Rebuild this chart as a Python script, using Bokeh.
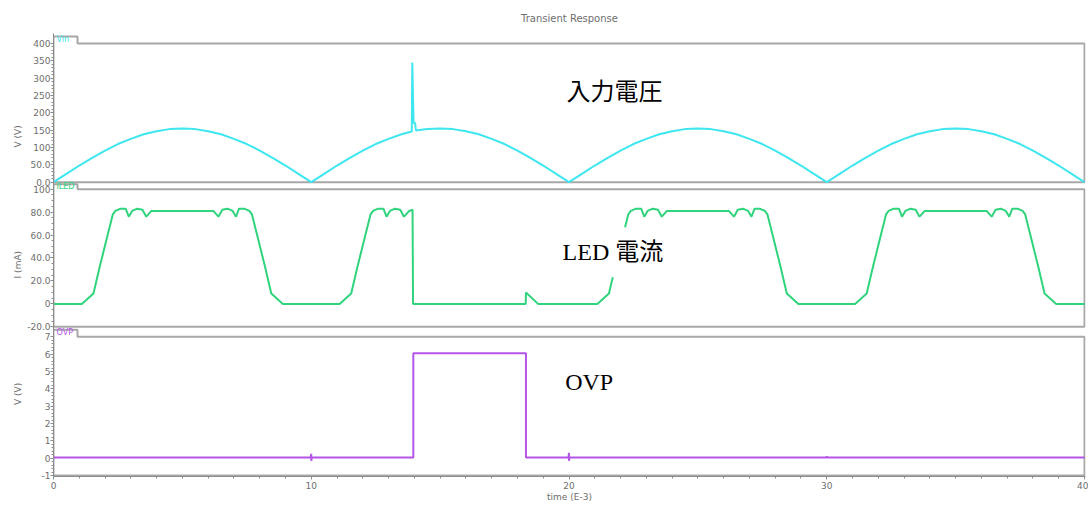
import math
from bokeh.plotting import figure
from bokeh.layouts import row
from bokeh.models import Range1d, FixedTicker, Label
from bokeh.embed import file_html
from bokeh.resources import INLINE

# ---------------- data ----------------
t_vin = [0, 0.5, 1, 1.5, 2, 2.5, 3, 3.5, 4, 4.5, 5, 5.5, 6, 6.5, 7, 7.5, 8, 8.5, 9, 9.5, 10,
         10.5, 11, 11.5, 12, 12.5, 13, 13.5, 13.9, 13.92, 13.97, 14.03, 14.06,
         14.5, 15, 15.5, 16, 16.5, 17, 17.5, 18, 18.5, 19, 19.5, 20,
         20.5, 21, 21.5, 22, 22.5, 23, 23.5, 24, 24.5, 25, 25.5, 26, 26.5, 27, 27.5, 28, 28.5, 29, 29.5, 30,
         30.5, 31, 31.5, 32, 32.5, 33, 33.5, 34, 34.5, 35, 35.5, 36, 36.5, 37, 37.5, 38, 38.5, 39, 39.5, 40]
vin = [0, 24, 48, 70, 91, 110, 125, 138, 147, 153, 155, 153, 147, 138, 125, 110, 91, 70, 48, 24, 0,
       24, 48, 70, 91, 110, 125, 138, 146, 345, 172, 170, 149,
       153, 155, 153, 147, 138, 125, 110, 91, 70, 48, 24, 0,
       24, 48, 70, 91, 110, 125, 138, 147, 153, 155, 153, 147, 138, 125, 110, 91, 70, 48, 24, 0,
       24, 48, 70, 91, 110, 125, 138, 147, 153, 155, 153, 147, 138, 125, 110, 91, 70, 48, 24, 0]

t_led = [0, 1.1, 1.55, 1.8, 2.1, 2.3, 2.4, 2.6, 2.8, 2.92, 3.05, 3.25, 3.45, 3.6, 3.8,
         6.2, 6.4, 6.55, 6.75, 6.95, 7.08, 7.2, 7.4, 7.6, 7.7, 7.9, 8.2, 8.45, 8.9,
         11.1, 11.55, 11.8, 12.1, 12.3, 12.4, 12.6, 12.8, 12.92, 13.05, 13.25, 13.45, 13.6, 13.8,
         13.93, 13.95, 18.32, 18.33, 18.8,
         21.1, 21.55, 21.8, 22.1, 22.3, 22.4, 22.6, 22.8, 22.92, 23.05, 23.25, 23.45, 23.6, 23.8,
         26.2, 26.4, 26.55, 26.75, 26.95, 27.08, 27.2, 27.4, 27.6, 27.7, 27.9, 28.2, 28.45, 28.9,
         31.1, 31.55, 31.8, 32.1, 32.3, 32.4, 32.6, 32.8, 32.92, 33.05, 33.25, 33.45, 33.6, 33.8,
         36.2, 36.4, 36.55, 36.75, 36.95, 37.08, 37.2, 37.4, 37.6, 37.7, 37.9, 38.2, 38.45, 38.9, 40]
i_led = [0, 0, 9, 33, 60, 78, 81, 83, 83, 76, 81, 83, 82, 76, 81,
         81, 76, 82, 83, 81, 76, 83, 83, 81, 78, 60, 33, 9, 0,
         0, 9, 33, 60, 78, 81, 83, 83, 76, 81, 83, 82, 76, 81,
         82, 0, 0, 10, 0,
         0, 9, 33, 60, 78, 81, 83, 83, 76, 81, 83, 82, 76, 81,
         81, 76, 82, 83, 81, 76, 83, 83, 81, 78, 60, 33, 9, 0,
         0, 9, 33, 60, 78, 81, 83, 83, 76, 81, 83, 82, 76, 81,
         81, 76, 82, 83, 81, 76, 83, 83, 81, 78, 60, 33, 9, 0, 0]

t_ovp = [0, 9.98, 10.0, 10.0, 10.02, 13.96, 13.96, 18.33, 18.33, 19.98, 20.0, 20.0, 20.02, 29.99, 30.0, 30.01, 40]
v_ovp = [0.04, 0.04, 0.25, -0.15, 0.04, 0.04, 6.05, 6.05, 0.04, 0.04, 0.3, -0.15, 0.04, 0.04, 0.12, 0.04, 0.04]

vin_ticks = [0, 50, 100, 150, 200, 250, 300, 350, 400]
vin_tick_labels = ["0.0", "50.0", "100", "150", "200", "250", "300", "350", "400"]
led_ticks = [-20, 0, 20, 40, 60, 80, 100]
led_tick_labels = ["-20.0", "0", "20.0", "40.0", "60.0", "80.0", "100"]
ovp_ticks = [-1, 0, 1, 2, 3, 4, 5, 6, 7]
ovp_tick_labels = ["-1", "0", "1", "2", "3", "4", "5", "6", "7"]
time_ticks = [0, 10, 20, 30, 40]
time_tick_labels = ["0", "10", "20", "30", "40"]

# ---------------- style / layout ----------------
X_MIN, X_MAX = 0, 40
BOX_W = 1031
KX = BOX_W / (X_MAX - X_MIN)
HEIGHT = 504
TOP_BORDER = 33
FRAME_H = 444
LABEL_W = 23
FRAME_LEFT = 53
FRAME_GRAY = "#a8a8a8"
AXIS_GRAY = "#8c8c8c"
TEXT_GRAY = "#6e6e6e"
SMALL_FONT = "DejaVu Sans"
BIG_FONT = "Liberation Serif, Noto Sans CJK JP"
BIG_SIZE = "24px"
VIN_COLOR = "#3ee6f0"
LED_COLOR = "#2fd47c"
OVP_COLOR = "#b455e8"

# panel layout: data span, box bottom/top in frame pixels (from frame bottom), tab height,
# and the page position of each panel's rotated axis title
panels = [
    dict(name="vin", ymin=0, ymax=400, ub=295, ut=434, tab=8, ticks=vin_ticks, labels=vin_tick_labels,
         minor_step=10, color=VIN_COLOR, tab_text="Vin", axis_label="V (V)", label_y=117),
    dict(name="led", ymin=-20, ymax=100, ub=150, ut=288, tab=6, ticks=led_ticks, labels=led_tick_labels,
         minor_step=5, color=LED_COLOR, tab_text="ILED", axis_label="I (mA)", label_y=263),
    dict(name="ovp", ymin=-1, ymax=7, ub=1, ut=140, tab=8, ticks=ovp_ticks, labels=ovp_tick_labels,
         minor_step=0.2, color=OVP_COLOR, tab_text="OVP", axis_label="V (V)", label_y=410),
]

# narrow strip holding the rotated axis titles (page pixel coordinates)
lab = figure(width=LABEL_W, height=HEIGHT, x_range=Range1d(0, LABEL_W), y_range=Range1d(HEIGHT, 0),
             x_axis_location=None, y_axis_location=None, output_backend="svg", toolbar_location=None,
             min_border_left=0, min_border_right=0, min_border_top=0, min_border_bottom=0)
lab.grid.visible = False
lab.outline_line_color = None

p = figure(width=1088 - LABEL_W, height=HEIGHT,
           x_range=Range1d(X_MIN, X_MAX + 1 / KX), y_range=Range1d(0, FRAME_H),
           title="Transient Response",
           output_backend="svg", toolbar_location=None,
           min_border_left=FRAME_LEFT - LABEL_W, min_border_right=3,
           min_border_top=TOP_BORDER, min_border_bottom=HEIGHT - TOP_BORDER - FRAME_H)
p.grid.visible = False
p.outline_line_color = None
p.title.align = "center"
p.title.text_font = SMALL_FONT
p.title.text_font_size = "10px"
p.title.text_font_style = "normal"
p.title.text_color = TEXT_GRAY
p.title.standoff = 20

major_u, minor_u, overrides = [], [], {}
tab_w = 24 / KX
for pn in panels:
    k = (pn["ut"] - pn["ub"]) / (pn["ymax"] - pn["ymin"])
    start = pn["ymin"] - pn["ub"] / k
    p.extra_y_ranges[pn["name"]] = Range1d(start, start + FRAME_H / k)
    to_u = lambda v, pn=pn, k=k: round(pn["ub"] + (v - pn["ymin"]) * k, 4)
    for v, lb in zip(pn["ticks"], pn["labels"]):
        u = to_u(v)
        major_u.append(u)
        overrides[u] = lb
    n = int(round((pn["ymax"] - pn["ymin"]) / pn["minor_step"]))
    minor_u += [to_u(pn["ymin"] + i * pn["minor_step"]) for i in range(n + 1)]
    # panel box with legend tab
    top = pn["ut"] + pn["tab"] - 1
    p.line([X_MIN, X_MIN + tab_w, X_MIN + tab_w, X_MAX, X_MAX, X_MIN, X_MIN],
           [top, top, pn["ut"], pn["ut"], pn["ub"], pn["ub"], top],
           line_color=FRAME_GRAY, line_width=2)
    p.add_layout(Label(x=X_MIN + 3 / KX, y=pn["ut"] + pn["tab"] / 2, text=pn["tab_text"],
                       text_font=SMALL_FONT, text_font_size="8px", text_color=pn["color"],
                       text_baseline="middle", text_align="left"))
    lab.add_layout(Label(x=17.5, y=pn["label_y"], text=pn["axis_label"], angle=math.pi / 2,
                         text_font=SMALL_FONT, text_font_size="9px", text_color=TEXT_GRAY,
                         text_baseline="middle", text_align="center"))

yax = p.yaxis[0]
yax.ticker = FixedTicker(ticks=major_u, minor_ticks=minor_u)
yax.major_label_overrides = overrides
xax = p.xaxis[0]
xax.ticker = FixedTicker(ticks=time_ticks, minor_ticks=list(range(0, 41)))
xax.major_label_overrides = {t: l for t, l in zip(time_ticks, time_tick_labels)}
xax.axis_label = "time (E-3)"
for ax in (xax, yax):
    ax.axis_label_text_font = SMALL_FONT
    ax.axis_label_text_font_size = "9px"
    ax.axis_label_text_font_style = "normal"
    ax.axis_label_text_color = TEXT_GRAY
    ax.major_label_text_font = SMALL_FONT
    ax.major_label_text_font_size = "9px"
    ax.major_label_text_color = TEXT_GRAY
    ax.axis_line_color = AXIS_GRAY
    ax.major_tick_line_color = AXIS_GRAY
    ax.minor_tick_line_color = AXIS_GRAY
    ax.major_tick_in = 0
    ax.minor_tick_in = 0
    ax.minor_tick_out = 2
    ax.axis_label_standoff = 0
yax.major_tick_out = 3
yax.major_label_standoff = 0
xax.major_tick_out = 3
xax.major_label_standoff = 2

# series
p.line(t_vin, vin, y_range_name="vin", line_color=VIN_COLOR, line_width=2)
p.line(t_led, i_led, y_range_name="led", line_color=LED_COLOR, line_width=2)
p.line(t_ovp, v_ovp, y_range_name="ovp", line_color=OVP_COLOR, line_width=2)

# annotations
PAD = 12
p.add_layout(Label(x=19.9, y=259, y_range_name="vin", text="入力電圧", text_font=BIG_FONT,
                   text_font_size=BIG_SIZE, text_color="black", text_baseline="middle", text_align="left"))
p.add_layout(Label(x=19.75 - PAD / KX, y=45, y_range_name="led", text="LED 電流", text_font=BIG_FONT,
                   text_font_size=BIG_SIZE, text_color="black", text_baseline="middle", text_align="left",
                   background_fill_color="white", padding=PAD))
p.add_layout(Label(x=19.85, y=4.37, y_range_name="ovp", text="OVP", text_font=BIG_FONT,
                   text_font_size=BIG_SIZE, text_color="black", text_baseline="middle", text_align="left"))

open("out.html", "w").write(file_html(row(lab, p), INLINE))
